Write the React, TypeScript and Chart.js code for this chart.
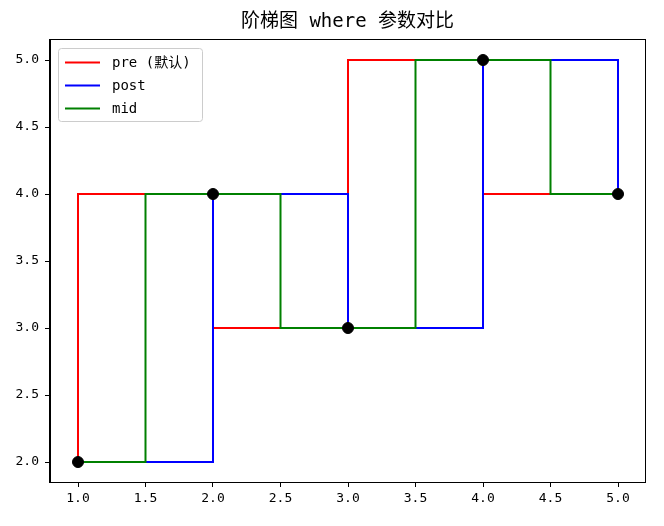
import { useEffect, useRef } from "react"
import { Chart, registerables } from "chart.js"

Chart.register(...registerables)

// step data
const xValues = [1, 2, 3, 4, 5]
const yValues = [2, 4, 3, 5, 4]
const xTicks = [1.0, 1.5, 2.0, 2.5, 3.0, 3.5, 4.0, 4.5, 5.0]
const yTicks = [2.0, 2.5, 3.0, 3.5, 4.0, 4.5, 5.0]
const seriesLabels = ["pre (默认)", "post", "mid"]
const seriesColors = ["#ff0000", "#0000ff", "#008000"]
// chart.js naming is the other way round from matplotlib's where=
const seriesSteps = ["after", "before", "middle"] as const
const titleText = "阶梯图 where 参数对比"

const FONT = "'DejaVu Sans Mono', 'Noto Sans CJK SC', monospace"

// axis limits picked so the integer steps land on whole pixels (no blurry overlaps)
const X_MIN = 1 - 28 / 135
const X_MAX = X_MIN + 595 / 135
const Y_MAX = 5 + 21 / 134
const Y_MIN = Y_MAX - 443 / 134

const framePlugin = {
  id: "frame",
  afterDraw(chart: Chart) {
    const { ctx, chartArea } = chart
    const { left, right, top, bottom } = chartArea
    ctx.save()

    // spines on all four sides
    ctx.strokeStyle = "#000"
    ctx.lineWidth = 1
    ctx.strokeRect(Math.round(left) - 0.5, Math.round(top) + 0.5, Math.round(right - left) + 1, Math.round(bottom - top))

    // title
    ctx.fillStyle = "#000"
    ctx.font = `19px ${FONT}`
    ctx.textAlign = "center"
    ctx.textBaseline = "middle"
    ctx.fillText(titleText, (left + right) / 2, 22)

    // legend
    const bx = left + 8.5
    const by = top + 9.5
    const bw = 144
    const bh = 73
    ctx.beginPath()
    ctx.roundRect(bx, by, bw, bh, 3)
    ctx.fillStyle = "rgba(255,255,255,0.8)"
    ctx.fill()
    ctx.strokeStyle = "#cccccc"
    ctx.stroke()
    ctx.font = `14px ${FONT}`
    ctx.textAlign = "left"
    seriesLabels.forEach((label, i) => {
      const y = by + 14 + i * 23
      ctx.beginPath()
      ctx.moveTo(bx + 6.5, y)
      ctx.lineTo(bx + 41.5, y)
      ctx.strokeStyle = seriesColors[i]
      ctx.lineWidth = 2
      ctx.stroke()
      ctx.fillStyle = "#000"
      ctx.fillText(label, bx + 53.5, y + 1)
    })
    ctx.restore()
  },
}

export default function App() {
  const chartRef = useRef<HTMLCanvasElement>(null)
  const chartInstance = useRef<Chart | null>(null)

  useEffect(() => {
    document.body.style.margin = "0"
    if (!chartRef.current) return
    if (chartInstance.current) chartInstance.current.destroy()

    const points = xValues.map((x, i) => ({ x, y: yValues[i] }))

    const stepSets = seriesLabels.map((label, i) => ({
      type: "line" as const,
      label,
      data: points,
      borderColor: seriesColors[i],
      borderWidth: 2,
      stepped: seriesSteps[i],
      pointRadius: 0,
      fill: false,
      order: 3 - i,
    }))

    const ctx = chartRef.current.getContext("2d")
    if (ctx) {
      chartInstance.current = new Chart(ctx, {
        type: "line",
        data: {
          datasets: [
            ...stepSets,
            {
              type: "scatter" as const,
              label: "points",
              data: points,
              backgroundColor: "#000",
              borderColor: "#000",
              pointRadius: 5.5,
              showLine: false,
              order: 0,
            },
          ] as any,
        },
        options: {
          responsive: false,
          animation: false,
          devicePixelRatio: 1,
          layout: { padding: { top: 39, right: 19, left: 0, bottom: 0 } },
          plugins: {
            legend: { display: false },
            title: { display: false },
            tooltip: { enabled: false },
          },
          scales: {
            x: {
              type: "linear",
              min: X_MIN,
              max: X_MAX,
              afterBuildTicks: (s: any) => {
                s.ticks = xTicks.map((v) => ({ value: v }))
              },
              afterFit: (s: any) => {
                s.height = 44
              },
              grid: { display: true, drawOnChartArea: false, drawTicks: true, tickLength: 5, color: "#000" },
              border: { display: true, color: "#000", width: 1 },
              ticks: {
                color: "#000",
                padding: 4,
                maxRotation: 0,
                autoSkip: false,
                font: { family: FONT, size: 13 },
                callback: (v: any) => Number(v).toFixed(1),
              },
            },
            y: {
              type: "linear",
              min: Y_MIN,
              max: Y_MAX,
              afterBuildTicks: (s: any) => {
                s.ticks = yTicks.map((v) => ({ value: v }))
              },
              afterFit: (s: any) => {
                s.width = 50
              },
              grid: { display: true, drawOnChartArea: false, drawTicks: true, tickLength: 5, color: "#000" },
              border: { display: true, color: "#000", width: 1 },
              ticks: {
                color: "#000",
                padding: 6,
                autoSkip: false,
                font: { family: FONT, size: 13 },
                callback: (v: any) => Number(v).toFixed(1),
              },
            },
          },
        },
        plugins: [framePlugin],
      })
    }

    return () => {
      if (chartInstance.current) {
        chartInstance.current.destroy()
        chartInstance.current = null
      }
    }
  }, [])

  return (
    <div style={{ width: 664, height: 526, background: "#fff" }}>
      <canvas ref={chartRef} width={664} height={526} />
    </div>
  )
}
